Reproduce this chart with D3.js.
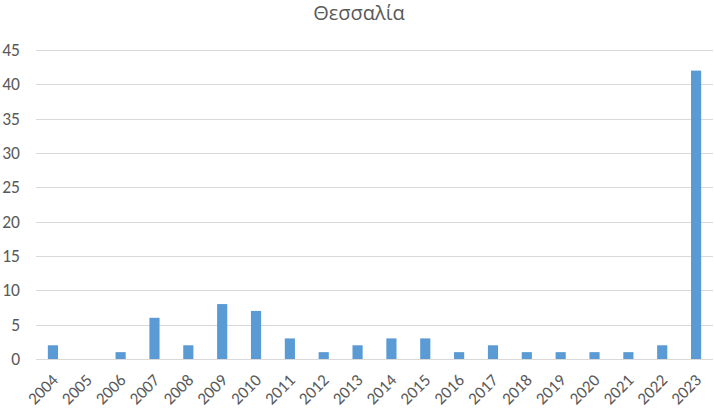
<!DOCTYPE html>
<html><head><meta charset="utf-8">
<script src="https://cdn.jsdelivr.net/npm/d3@7"></script>
<style>body{margin:0;background:#fff}svg{display:block}text{font-family:Carlito,"Liberation Sans Narrow","Liberation Sans",sans-serif;fill:#595959}</style>
</head><body>
<script>
const title = "Θεσσαλία";
const years = ["2004","2005","2006","2007","2008","2009","2010","2011","2012","2013","2014","2015","2016","2017","2018","2019","2020","2021","2022","2023"];
const values = [2,0,1,6,2,8,7,3,1,2,3,3,1,2,1,1,1,1,2,42];
const yTicks = [0,5,10,15,20,25,30,35,40,45];

const W=714,H=411;
const svg=d3.select("body").append("svg").attr("width",W).attr("height",H);
const x=d3.scaleBand().domain(years).range([36,713]).paddingInner(0.7).paddingOuter(0.35);
const y=d3.scaleLinear().domain([0,45]).range([359,50]);

svg.append("text").attr("x",359).attr("y",20).attr("text-anchor","middle")
  .style("font-family","'Open Sans',sans-serif").style("font-size","20px").text(title);

svg.append("g").selectAll("line").data(yTicks).join("line")
  .attr("x1",36).attr("x2",713).attr("y1",d=>Math.round(y(d))+0.5).attr("y2",d=>Math.round(y(d))+0.5)
  .attr("stroke","#d9d9d9").attr("stroke-width",1);
svg.append("g").selectAll("text").data(yTicks).join("text")
  .attr("x",20).attr("y",d=>y(d)).attr("dy","0.35em").attr("text-anchor","end").style("font-size","17.5px").text(d=>d);

svg.append("g").selectAll("rect").data(values).join("rect")
  .attr("x",(d,i)=>x(years[i])).attr("width",x.bandwidth())
  .attr("y",d=>y(d)).attr("height",d=>y(0)-y(d)).attr("fill","#5b9bd5");

svg.append("g").selectAll("text").data(years).join("text")
  .attr("transform",d=>`translate(${x(d)+x.bandwidth()/2+2},${377}) rotate(-45)`)
  .attr("text-anchor","end").attr("dy","0.35em").style("font-size","17px").text(d=>d);
</script>
</body></html>
